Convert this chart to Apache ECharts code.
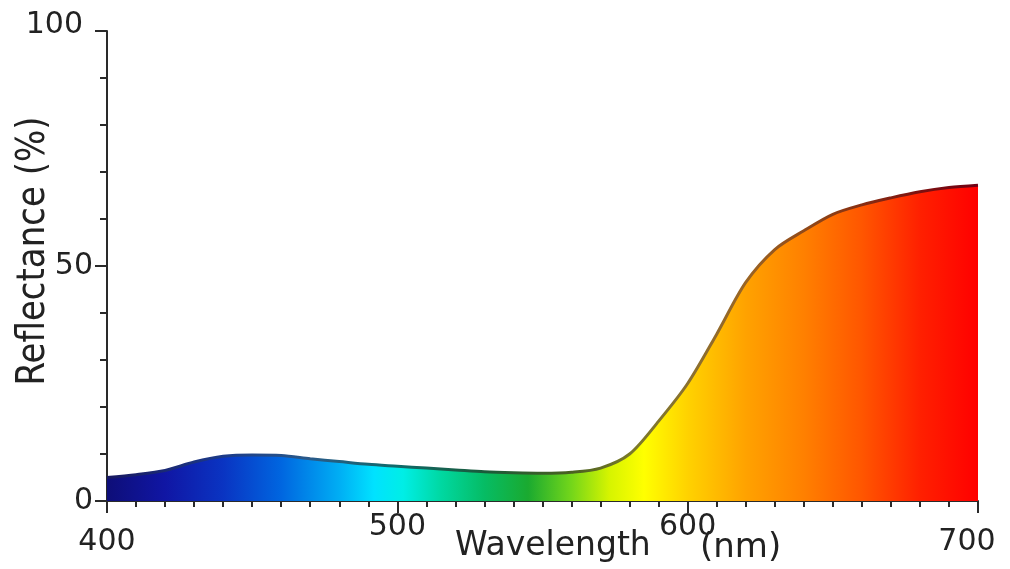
<!DOCTYPE html>
<html>
<head>
<meta charset="utf-8">
<script src="https://cdn.jsdelivr.net/npm/echarts@6/dist/echarts.min.js"></script>
<style>
html,body{margin:0;padding:0;background:#fff;}
#chart{width:1010px;height:569px;}
</style>
</head>
<body>
<div id="chart"></div>
<script>
// Data
const wavelengths = [400,410,420,430,440,450,460,470,480,490,500,510,520,530,540,550,560,570,580,590,600,610,620,630,640,650,660,670,680,690,700];
const reflectance = [5.0,5.6,6.5,8.3,9.5,9.8,9.7,9.0,8.4,7.8,7.4,7.0,6.6,6.2,6.0,5.9,6.1,7.0,10.0,17.0,25.0,35.5,46.5,53.5,57.5,61.0,63.0,64.5,65.8,66.7,67.2];
const xTickLabels = ['400','500','600','700'];
const yTickLabels = ['0','50','100'];
const xName = 'Wavelength';
const xUnit = '(nm)';
const yName = 'Reflectance (%)';

// Spectrum colours (style)
const fillStops = [
  [400,'#0e0e78'],[420,'#1016a4'],[440,'#0a34c2'],[460,'#0066e0'],[480,'#00aef4'],
  [492,'#00e2ff'],[502,'#00eee6'],[515,'#00d8a2'],[530,'#06bc64'],[545,'#1aaa30'],
  [560,'#74d61a'],[573,'#d6f400'],[585,'#ffff00'],[600,'#ffd200'],[620,'#ffa200'],
  [640,'#ff8000'],[660,'#ff5600'],[680,'#ff2000'],[700,'#ff0000']
];
const lineStops = [
  [400,'#181860'],[440,'#1c3a88'],[470,'#2a5a8a'],[500,'#106a6a'],[530,'#1a5a3a'],
  [560,'#4a6020'],[580,'#7a7a28'],[600,'#8a7030'],[620,'#9a6424'],[650,'#8c3c14'],
  [680,'#7c1010'],[700,'#700014']
];
function grad(stops){
  return new echarts.graphic.LinearGradient(0,0,1,0,
    stops.map(s => ({offset:(s[0]-400)/300, color:s[1]})));
}

const chart = echarts.init(document.getElementById('chart'), null, {renderer:'canvas'});
const font = 'DejaVu Sans';
const txt = '#222';
const fs = 30;

chart.setOption({
  animation:false,
  grid:{left:107,right:32,top:31,bottom:68,containLabel:false},
  xAxis:{
    type:'value', min:400, max:700, interval:100,
    axisLine:{show:true,lineStyle:{color:'#2a2a2a',width:2}},
    axisTick:{show:true,length:12,lineStyle:{color:'#2a2a2a',width:2}},
    minorTick:{show:true,splitNumber:10,length:6,lineStyle:{color:'#2a2a2a',width:2}},
    splitLine:{show:false},
    axisLabel:{
      margin:11, fontFamily:font, fontSize:fs, color:txt, showMaxLabel:true, showMinLabel:true,
      formatter:function(v){
        const s = xTickLabels.find(t => +t === v) || '';
        if (v===400) return '{lo|'+s+'}';
        if (v===700) return '{hi|'+s+'}';
        return '{n|'+s+'}';
      },
      rich:{
        n:{fontFamily:font,fontSize:fs,color:txt,padding:[0,0,0,0]},
        lo:{fontFamily:font,fontSize:fs,color:txt,padding:[15,0,0,0]},
        hi:{fontFamily:font,fontSize:fs,color:txt,padding:[15,22,0,0]}
      }
    }
  },
  yAxis:{
    type:'value', min:0, max:100, interval:50,
    axisLine:{show:true,lineStyle:{color:'#2a2a2a',width:2}},
    axisTick:{show:true,length:12,lineStyle:{color:'#2a2a2a',width:2}},
    minorTick:{show:true,splitNumber:5,length:7,lineStyle:{color:'#2a2a2a',width:2}},
    splitLine:{show:false},
    axisLabel:{
      margin:14, fontFamily:font, fontSize:fs, color:txt,
      formatter:function(v){
        const s = yTickLabels.find(t => +t === v) || '';
        if (v===100) return '{top|'+s+'}';
        return '{n|'+s+'}';
      },
      rich:{
        n:{fontFamily:font,fontSize:fs,color:txt},
        top:{fontFamily:font,fontSize:fs,color:txt,padding:[0,10,12,0]}
      }
    }
  },
  graphic:[
    {type:'text', left:455, top:530, style:{text:xName, font:'33px "DejaVu Sans"', fill:txt}},
    {type:'text', left:700, top:531, style:{text:xUnit, font:'34px "DejaVu Sans"', fill:txt}},
    {type:'text', x:34, y:251, rotation:Math.PI/2, scaleY:1.15,
      style:{text:yName, font:'34px "DejaVu Sans"', fill:txt, align:'center', verticalAlign:'middle'}}
  ],
  series:[{
    type:'line',
    data:wavelengths.map((w,i)=>[w,reflectance[i]]),
    showSymbol:false, smooth:0.3,
    lineStyle:{width:3,color:grad(lineStops)},
    areaStyle:{color:grad(fillStops),opacity:1},
    z:1
  }]
});
</script>
</body>
</html>
